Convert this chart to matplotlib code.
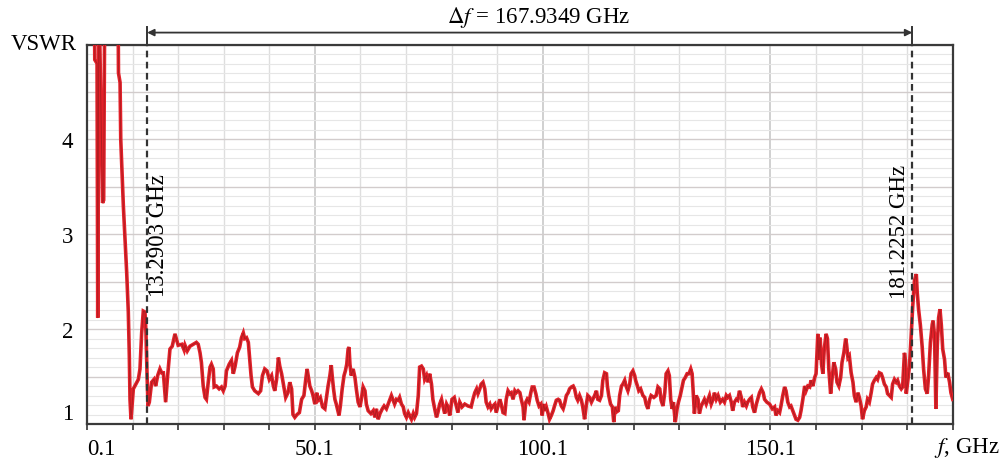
import numpy as np
import matplotlib
matplotlib.use("Agg")
import matplotlib.pyplot as plt
from matplotlib.ticker import FixedLocator, MultipleLocator, FuncFormatter

plt.rcParams["font.family"] = "serif"
plt.rcParams["font.serif"] = ["Liberation Serif", "DejaVu Serif"]
plt.rcParams["mathtext.fontset"] = "stix"
plt.rcParams["font.size"] = 16.5

# band edges where VSWR drops under 2 (GHz)
F_LOW = 13.2903
F_HIGH = 181.2252

# measured sweep, GHz
freq_ghz = [
    0.1, 1.7, 1.8, 2.3, 2.45, 2.7, 3.5, 3.75, 4.0, 6.9, 7.0, 7.35,
    7.5, 8.07, 8.43, 8.8, 9.16, 9.38, 9.53, 9.75, 10.26, 10.6, 11.36, 11.72,
    12.09, 12.45, 12.82, 13.04, 13.26, 13.48, 13.77, 14.28, 14.79, 15.16, 15.6, 16.1,
    16.47, 16.85, 17.35, 17.79, 18.3, 18.8, 19.4, 20.1, 20.9, 21.4, 21.6, 22.1,
    22.7, 23.4, 24.1, 24.5, 24.9, 25.2, 25.6, 26.0, 26.3, 26.7, 27.1, 27.4,
    27.8, 28.0, 28.5, 29.1, 29.6, 30.0, 30.4, 30.7, 31.3, 31.8, 32.2, 32.6,
    33.1, 33.6, 34.0, 34.4, 34.7, 35.1, 35.5, 35.8, 36.1, 36.4, 36.9, 37.7,
    38.2, 38.6, 39.1, 39.6, 40.1, 40.6, 41.0, 41.3, 41.7, 42.1, 42.4, 42.8,
    43.3, 43.7, 44.2, 44.6, 45.0, 45.3, 45.7, 46.2, 46.7, 47.2, 47.7, 48.1,
    48.4, 48.7, 49.0, 49.4, 49.7, 50.1, 50.5, 50.8, 51.3, 51.8, 52.3, 52.7,
    53.0, 53.4, 53.7, 53.9, 54.2, 54.5, 54.8, 55.4, 55.7, 56.1, 56.5, 56.8,
    57.1, 57.4, 57.6, 57.8, 58.1, 58.5, 58.9, 59.2, 59.6, 60.0, 60.3, 60.7,
    61.1, 61.4, 61.8, 62.4, 62.9, 63.3, 63.6, 64.0, 64.4, 64.9, 65.3, 65.8,
    66.2, 66.5, 66.9, 67.3, 67.6, 68.0, 68.4, 68.7, 69.1, 69.5, 69.8, 70.2,
    70.6, 70.9, 71.3, 71.7, 72.0, 72.4, 72.8, 73.1, 73.5, 73.9, 74.2, 74.6,
    74.9, 75.3, 75.7, 76.0, 76.4, 76.8, 77.1, 77.5, 77.9, 78.2, 78.6, 79.0,
    79.3, 79.7, 80.2, 80.7, 81.2, 81.5, 81.9, 82.4, 83.0, 83.7, 84.4, 84.8,
    85.2, 85.6, 85.9, 86.3, 86.6, 87.0, 87.4, 87.7, 88.1, 88.5, 88.8, 89.2,
    89.6, 89.9, 90.3, 90.7, 91.0, 91.4, 91.8, 92.1, 92.5, 92.9, 93.2, 93.6,
    94.0, 94.3, 94.7, 95.1, 95.4, 95.8, 96.0, 96.4, 96.7, 97.1, 97.5, 97.8,
    98.2, 98.6, 98.9, 99.3, 99.7, 100.0, 100.3, 100.6, 100.9, 101.3, 101.6, 102.0,
    102.4, 102.7, 103.1, 103.5, 103.8, 104.2, 104.6, 104.9, 105.3, 105.7, 106.0, 106.4,
    106.8, 107.1, 107.5, 107.8, 108.2, 108.6, 108.9, 109.3, 109.7, 110.0, 110.4, 110.8,
    111.1, 111.5, 111.9, 112.2, 112.6, 113.0, 113.3, 113.7, 114.1, 114.3, 114.6, 115.0,
    115.4, 115.7, 116.0, 116.4, 116.7, 117.0, 117.4, 117.7, 118.1, 118.4, 118.8, 119.2,
    119.5, 119.9, 120.3, 120.5, 120.9, 121.2, 121.6, 122.1, 122.5, 122.8, 123.2, 123.6,
    123.9, 124.5, 125.0, 125.4, 125.8, 126.1, 126.5, 126.9, 127.2, 127.6, 127.9, 128.2,
    128.5, 128.8, 129.2, 129.6, 129.9, 130.3, 130.7, 131.0, 131.4, 131.8, 132.2, 132.6,
    132.9, 133.1, 133.4, 133.8, 134.2, 134.5, 134.9, 135.3, 135.6, 136.0, 136.4, 136.7,
    137.1, 137.5, 137.8, 138.2, 138.6, 139.1, 139.6, 140.0, 140.4, 140.7, 141.1, 141.5,
    141.8, 142.2, 142.6, 142.9, 143.3, 143.7, 144.0, 144.4, 144.8, 145.1, 145.5, 145.9,
    146.2, 146.6, 147.0, 147.3, 147.7, 148.1, 148.5, 148.8, 149.3, 149.9, 150.5, 151.0,
    151.3, 151.7, 152.1, 152.4, 152.8, 153.2, 153.5, 153.9, 154.3, 154.6, 155.0, 155.4,
    155.7, 156.1, 156.5, 156.8, 157.2, 157.6, 157.9, 158.3, 158.7, 159.0, 159.4, 159.8,
    160.1, 160.5, 160.7, 161.0, 161.3, 161.6, 161.9, 162.3, 162.6, 162.9, 163.3, 163.6,
    164.0, 164.4, 164.7, 165.1, 165.5, 165.8, 166.2, 166.6, 166.8, 167.1, 167.4, 167.8,
    168.2, 168.5, 168.9, 169.3, 169.6, 170.0, 170.3, 170.7, 171.1, 171.4, 171.8, 172.2,
    172.5, 172.9, 173.3, 173.6, 174.0, 174.4, 174.7, 175.1, 175.5, 175.8, 176.2, 176.6,
    176.9, 177.3, 177.7, 178.0, 178.4, 178.8, 179.1, 179.5, 179.7, 179.9, 180.2, 180.6,
    180.9, 181.3, 181.7, 182.1, 182.3, 182.6, 183.0, 183.4, 183.7, 184.1, 184.5, 184.8,
    185.2, 185.6, 185.8, 186.1, 186.4, 186.7, 187.0, 187.3, 187.6, 187.9, 188.3, 188.6,
    189.0, 189.4, 189.7, 190.1,
]

vswr = [
    5.60, 5.60, 4.84, 4.80, 2.12, 5.60, 3.33, 3.36, 5.60, 5.60, 4.70, 4.60,
    4.00, 3.30, 2.95, 2.60, 2.18, 1.72, 1.26, 1.05, 1.37, 1.40, 1.47, 1.58,
    1.96, 2.19, 2.18, 1.96, 1.54, 1.19, 1.23, 1.44, 1.47, 1.40, 1.51, 1.58,
    1.54, 1.54, 1.23, 1.51, 1.79, 1.82, 1.95, 1.83, 1.84, 1.78, 1.83, 1.77,
    1.82, 1.84, 1.86, 1.84, 1.75, 1.65, 1.40, 1.28, 1.26, 1.44, 1.60, 1.63,
    1.58, 1.39, 1.40, 1.37, 1.39, 1.35, 1.40, 1.56, 1.63, 1.67, 1.53, 1.61,
    1.75, 1.81, 1.91, 1.96, 1.90, 1.91, 1.86, 1.68, 1.51, 1.39, 1.35, 1.32,
    1.35, 1.51, 1.58, 1.56, 1.47, 1.51, 1.40, 1.35, 1.47, 1.70, 1.61, 1.53,
    1.39, 1.28, 1.33, 1.44, 1.37, 1.10, 1.07, 1.10, 1.12, 1.26, 1.30, 1.47,
    1.58, 1.49, 1.40, 1.35, 1.30, 1.21, 1.33, 1.25, 1.28, 1.18, 1.16, 1.30,
    1.40, 1.51, 1.62, 1.51, 1.37, 1.26, 1.21, 1.09, 1.19, 1.37, 1.51, 1.56,
    1.63, 1.79, 1.81, 1.63, 1.51, 1.58, 1.49, 1.37, 1.23, 1.18, 1.26, 1.39,
    1.35, 1.21, 1.14, 1.11, 1.14, 1.07, 1.16, 1.05, 1.11, 1.16, 1.19, 1.16,
    1.21, 1.25, 1.30, 1.25, 1.21, 1.26, 1.25, 1.28, 1.21, 1.18, 1.11, 1.07,
    1.12, 1.09, 1.05, 1.11, 1.07, 1.11, 1.30, 1.60, 1.61, 1.58, 1.47, 1.51,
    1.44, 1.53, 1.42, 1.26, 1.16, 1.07, 1.12, 1.21, 1.26, 1.19, 1.11, 1.21,
    1.18, 1.09, 1.26, 1.28, 1.18, 1.12, 1.23, 1.18, 1.21, 1.19, 1.18, 1.26,
    1.33, 1.37, 1.32, 1.37, 1.42, 1.44, 1.37, 1.23, 1.18, 1.21, 1.16, 1.19,
    1.21, 1.12, 1.19, 1.26, 1.21, 1.12, 1.11, 1.26, 1.35, 1.32, 1.33, 1.26,
    1.35, 1.33, 1.35, 1.33, 1.26, 1.18, 1.04, 1.23, 1.26, 1.23, 1.33, 1.39,
    1.39, 1.32, 1.25, 1.19, 1.21, 1.09, 1.21, 1.14, 1.18, 1.11, 1.05, 1.09,
    1.14, 1.19, 1.25, 1.26, 1.25, 1.19, 1.16, 1.21, 1.30, 1.33, 1.37, 1.39,
    1.40, 1.37, 1.28, 1.25, 1.30, 1.25, 1.18, 1.05, 1.21, 1.30, 1.28, 1.23,
    1.26, 1.30, 1.35, 1.26, 1.25, 1.30, 1.46, 1.54, 1.53, 1.40, 1.30, 1.21,
    1.18, 1.02, 1.18, 1.13, 1.14, 1.30, 1.40, 1.42, 1.46, 1.40, 1.35, 1.42,
    1.53, 1.56, 1.51, 1.46, 1.40, 1.35, 1.37, 1.30, 1.28, 1.21, 1.16, 1.26,
    1.30, 1.28, 1.30, 1.39, 1.37, 1.25, 1.19, 1.33, 1.53, 1.56, 1.51, 1.26,
    1.16, 1.23, 1.02, 1.16, 1.23, 1.30, 1.39, 1.46, 1.49, 1.53, 1.53, 1.58,
    1.53, 1.37, 1.11, 1.30, 1.26, 1.11, 1.19, 1.23, 1.26, 1.21, 1.26, 1.30,
    1.21, 1.26, 1.33, 1.26, 1.30, 1.23, 1.26, 1.23, 1.30, 1.28, 1.30, 1.23,
    1.14, 1.23, 1.26, 1.25, 1.35, 1.28, 1.18, 1.23, 1.19, 1.23, 1.26, 1.28,
    1.18, 1.12, 1.21, 1.26, 1.33, 1.37, 1.33, 1.26, 1.23, 1.21, 1.16, 1.18,
    1.09, 1.14, 1.12, 1.19, 1.30, 1.39, 1.35, 1.23, 1.18, 1.19, 1.14, 1.09,
    1.05, 1.04, 1.07, 1.14, 1.26, 1.40, 1.35, 1.40, 1.39, 1.46, 1.40, 1.49,
    1.53, 1.95, 1.68, 1.91, 1.63, 1.53, 1.79, 1.95, 1.90, 1.58, 1.32, 1.47,
    1.65, 1.58, 1.44, 1.40, 1.49, 1.65, 1.75, 1.90, 1.84, 1.70, 1.72, 1.54,
    1.44, 1.30, 1.23, 1.33, 1.28, 1.19, 1.05, 1.14, 1.18, 1.26, 1.23, 1.33,
    1.42, 1.46, 1.49, 1.47, 1.54, 1.53, 1.49, 1.42, 1.39, 1.32, 1.30, 1.28,
    1.42, 1.47, 1.44, 1.46, 1.40, 1.37, 1.39, 1.75, 1.68, 1.32, 1.44, 1.61,
    1.86, 2.23, 2.51, 2.58, 2.39, 2.21, 2.04, 1.81, 1.58, 1.37, 1.32, 1.51,
    1.86, 2.05, 2.09, 1.93, 1.16, 1.82, 2.12, 2.21, 2.04, 1.79, 1.68, 1.49,
    1.54, 1.44, 1.33, 1.26,
]

x_major = [0.1, 50.1, 100.1, 150.1]
y_labels = [1, 2, 3, 4]

fig = plt.figure(figsize=(10.05, 4.6), dpi=100)
ax = fig.add_axes([0.0866, 0.0761, 0.8614, 0.8249])

# red trace with a darker core, as on the analyser printout
ax.plot(freq_ghz, vswr, color="#e3212a", lw=2.6, zorder=3,
        solid_joinstyle="miter")
ax.plot(freq_ghz, vswr, color="#8e1a1a", lw=0.7, alpha=0.6, zorder=3)

ax.set_xlim(0.1, 190.1)
ax.set_ylim(1, 5)

# x axis: labelled every 50 GHz, ticks/grid every 10 GHz
ax.xaxis.set_major_locator(FixedLocator(x_major))
ax.xaxis.set_minor_locator(FixedLocator(np.arange(0.1, 190.2, 10)))
ax.xaxis.set_major_formatter(FuncFormatter(lambda v, p: f"{v:.1f}"))
ax.tick_params(axis="x", which="both", direction="out", length=4,
               width=1.2, color="#333333", pad=6)

# y axis: fine grid every 0.1, heavier every 0.5, labels 1..4
ax.yaxis.set_major_locator(MultipleLocator(0.5))
ax.yaxis.set_minor_locator(MultipleLocator(0.1))
ax.yaxis.set_major_formatter(FuncFormatter(
    lambda v, p: f"{v:.0f}" if round(v, 3) in y_labels else ""))
ax.tick_params(axis="y", which="both", length=0, pad=10)

ax.grid(True, which="minor", axis="x", color="#dedede", lw=1.0)
ax.grid(True, which="major", axis="x", color="#c8c8c8", lw=1.2)
ax.grid(True, which="minor", axis="y", color="#e6e6e6", lw=0.8)
ax.grid(True, which="major", axis="y", color="#d2cccc", lw=1.0)
ax.set_axisbelow(True)

for sp in ax.spines.values():
    sp.set_color("#3a3a3a")
    sp.set_linewidth(1.6)

# band edge markers
for fx in (F_LOW, F_HIGH):
    ax.plot([fx, fx], [1, 5], ls=(0, (3, 2)), color="#333333", lw=1.6, zorder=4)
    ax.plot([fx, fx], [5, 5.19], color="#333333", lw=1.4, clip_on=False)

ax.annotate("", xy=(F_HIGH, 5.126), xytext=(F_LOW, 5.126),
            arrowprops=dict(arrowstyle="<|-|>", color="#333333", lw=1.3,
                            shrinkA=0, shrinkB=0, mutation_scale=10),
            annotation_clip=False)
ax.text(99.3, 5.24, f"$\\Delta f$ = {F_HIGH - F_LOW:.4f} GHz",
        ha="center", va="baseline", clip_on=False)

ax.text(15.7, 3.0, f"{F_LOW:.4f} GHz", rotation=90, ha="center", va="center")
ax.text(178.4, 3.03, f"{F_HIGH:.4f} GHz", rotation=90, ha="center", va="center")

fig.text(77 / 1005, 1 - 50 / 460, "VSWR", ha="right", va="baseline")
fig.text(1000 / 1005, 1 - 453 / 460, "$f$, GHz", ha="right", va="baseline")

fig.canvas.draw()
for lab in ax.get_xticklabels():
    if lab.get_text() == "0.1":
        lab.set_ha("left")
for lab in ax.get_yticklabels():
    if lab.get_text() == "1":
        lab.set_va("bottom")

fig.savefig("out.png", dpi=100)
